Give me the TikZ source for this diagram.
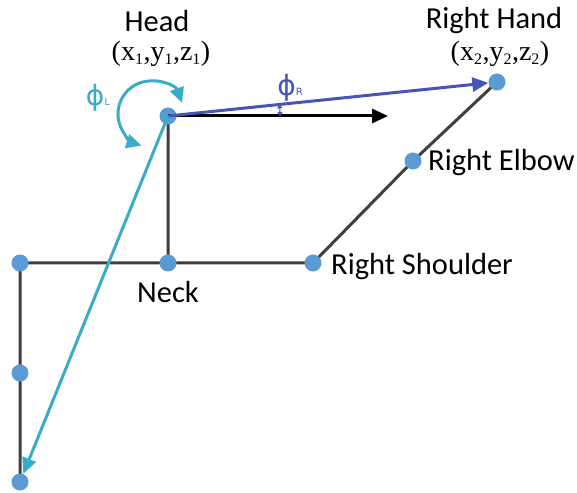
\documentclass[tikz,border=0pt]{standalone}
\usepackage{fontspec}
\setmainfont{Carlito}
\newfontfamily\serifxyz{Liberation Serif}
\newfontfamily\phifont{DejaVu Sans}
\usetikzlibrary{arrows.meta,positioning}
\definecolor{joint}{HTML}{5B9BD5}
\definecolor{bone}{HTML}{3F3F3F}
\definecolor{rblue}{HTML}{4656B8}
\definecolor{lcyan}{HTML}{3AABC8}
\newcommand{\sub}[1]{\textsubscript{\fontsize{16}{16}\selectfont#1}}

\begin{document}
\begin{tikzpicture}[x=1pt,y=1pt,
 font=\fontsize{30.5}{32}\selectfont,
 j/.style={circle,fill=joint,inner sep=0pt,minimum size=17pt},
 b/.style={draw=bone,line width=3pt},
 lab/.style={inner sep=0pt},
 xyz/.style={inner sep=0pt,font=\serifxyz\fontsize{28}{28}\selectfont},
 ang/.style={inner sep=0pt,font=\phifont\fontsize{28}{28}\selectfont},
 arr/.style={line width=3pt,-{Triangle[length=16pt,width=14pt]}},
 dbl/.style={line width=3pt,{Triangle[length=15pt,width=14pt]}-{Triangle[length=15pt,width=14pt]}}
]
\useasboundingbox (0,0) rectangle (577,492);
% skeleton
\coordinate (head) at (168,376);
\coordinate (neck) at (168,229);
\coordinate (lsh) at (20,229);
\coordinate (lel) at (20,119);
\coordinate (lha) at (20,10);
\coordinate (rsh) at (313,229);
\coordinate (rel) at (413,331);
\coordinate (rha) at (497,410);
\coordinate (xend) at (388,376);
\draw[b] (head)--(neck) (lsh)--(rsh)--(rel)--(rha) (lsh)--(lha);
\foreach \p in {head,neck,lsh,lel,lha,rsh,rel,rha}
  \node[j] (\p-j) at (\p) {};
% vectors
\draw[arr,black] (head)--(xend);
\draw[arr,rblue] (head)--(rha-j);
\draw[arr,lcyan] (head)--(lha-j);
% angles
\draw[dbl,lcyan] (151,378) ++(20:33) arc (20:253:33);
\draw[rblue,line width=1pt,{Triangle[length=4pt,width=5pt]}-{Triangle[length=4pt,width=5pt]}] (head) ++(0:112) arc (0:6:112);
\node[ang,text=lcyan] (phil) at (98,394) {ϕ{\fontsize{10}{10}\selectfont L}};
\node[ang,text=rblue] (phir) at (290,404) {ϕ{\fontsize{10}{10}\selectfont R}};
% labels
\node[lab] (headlab) at (157,471) {Head};
\node[xyz] (headxyz) at (161,438) {(x\sub{1},y\sub{1},z\sub{1})};
\node[lab] (rhalab) at (494,471) {Right Hand};
\node[xyz] (rhaxyz) at (500,438) {(x\sub{2},y\sub{2},z\sub{2})};
\node[lab,anchor=west] (rellab) at (428,329) {Right Elbow};
\node[lab,anchor=west] (rshlab) at (331,225) {Right Shoulder};
\node[lab] (necklab) at (168,200) {Neck};
\end{tikzpicture}
\end{document}
